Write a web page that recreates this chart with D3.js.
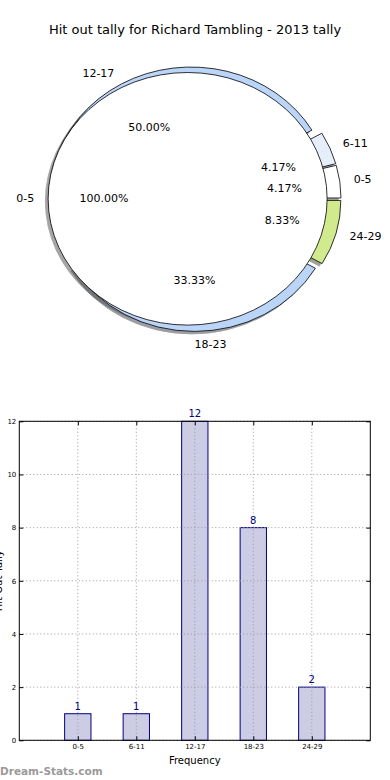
<!DOCTYPE html>
<html>
<head>
<meta charset="utf-8">
<script src="https://cdn.jsdelivr.net/npm/d3@7"></script>
<style>
  html, body { margin: 0; padding: 0; background: #fff; }
  svg { display: block; font-family: "DejaVu Sans", sans-serif; }
</style>
</head>
<body>
<svg id="chart" width="390" height="780"></svg>
<script>
// ---- data ----
const title = "Hit out tally for Richard Tambling - 2013 tally";
const categories = ["0-5", "6-11", "12-17", "18-23", "24-29"];
const counts = [1, 1, 12, 8, 2];
const sliceColors = ["#ffffff", "#e6eefc", "#bad5f8", "#bad5f8", "#d2ea8e"];
const innerLabels = ["0-5"];
const innerValues = [100];
const innerColors = ["#ffffff"];
const yTicks = [0, 2, 4, 6, 8, 10, 12];
const xLabel = "Frequency";
const yLabel = "Hit Out Tally";
const watermark = "Dream-Stats.com";

const svg = d3.select("#chart");

// title
svg.append("text").attr("x", 195).attr("y", 34).attr("text-anchor", "middle")
  .attr("font-size", 13).attr("fill", "#000").text(title);

// ---- pie (elliptical, matplotlib-like: start at east, counter-clockwise) ----
const pcx = 194.6, pcy = 198.8, prx = 139.5, pry = 126.3;
const explode = 0.05, labelDist = 1.1, pctDist = 0.6;
const U = 100; // unit radius in arc space
const arc = d3.arc().innerRadius(0).outerRadius(U);
const pieGen = d3.pie().sort(null).startAngle(Math.PI / 2).endAngle(Math.PI / 2 - 2 * Math.PI);

const total = d3.sum(counts);
const outerArcs = pieGen(counts).map((d, i) => ({...d, label: categories[i], color: sliceColors[i], pct: counts[i] / total * 100}));
const innerArcs = pieGen(innerValues).map((d, i) => ({...d, label: innerLabels[i], color: innerColors[i], pct: 100}));

function geom(d) {
  const a = (d.startAngle + d.endAngle) / 2; // d3 angle
  const ux = Math.sin(a), uy = -Math.cos(a);
  return {ux, uy, ox: pcx + explode * prx * ux, oy: pcy + explode * pry * uy};
}
function shade(c) {
  const r = d3.rgb(c);
  return d3.rgb(r.r * 0.3, r.g * 0.3, r.b * 0.3).toString();
}
const pieG = svg.append("g");
const allArcs = outerArcs.concat(innerArcs);
// shadows first
allArcs.forEach(d => {
  const g = geom(d);
  pieG.append("path").attr("d", arc(d))
    .attr("transform", `translate(${g.ox - 0.02 * prx},${g.oy + 0.02 * pry}) scale(${prx / U},${pry / U})`)
    .attr("fill", shade(d.color)).attr("stroke", shade(d.color)).attr("opacity", 0.5)
    .attr("vector-effect", "non-scaling-stroke").attr("stroke-width", 0.8);
});
allArcs.forEach(d => {
  const g = geom(d);
  pieG.append("path").attr("d", arc(d))
    .attr("transform", `translate(${g.ox},${g.oy}) scale(${prx / U},${pry / U})`)
    .attr("fill", d.color).attr("stroke", "#000")
    .attr("vector-effect", "non-scaling-stroke").attr("stroke-width", 0.8);
});
allArcs.forEach(d => {
  const g = geom(d);
  const lx = g.ox + labelDist * prx * g.ux, ly = g.oy + labelDist * pry * g.uy;
  svg.append("text").attr("x", lx).attr("y", ly)
    .attr("text-anchor", g.ux > -1e-9 ? "start" : "end")
    .attr("dominant-baseline", "central").attr("font-size", 11).text(d.label);
  const px = g.ox + pctDist * prx * g.ux, py = g.oy + pctDist * pry * g.uy;
  svg.append("text").attr("x", px).attr("y", py).attr("text-anchor", "middle")
    .attr("dominant-baseline", "central").attr("font-size", 11).text(d.pct.toFixed(2) + "%");
});

// ---- bar chart ----
const axL = 19.3, axR = 370.3, axT = 421.3, axB = 740.3;
const x = d3.scaleLinear().domain([-1, 5]).range([axL, axR]);
const y = d3.scaleLinear().domain([0, 12]).range([axB, axT]);
const barW = 0.45;
const bg = svg.append("g");

// bars
bg.selectAll("rect.bar").data(counts).enter().append("rect")
  .attr("x", (d, i) => x(i - barW / 2)).attr("width", (d, i) => x(i + barW / 2) - x(i - barW / 2))
  .attr("y", d => y(d)).attr("height", d => y(0) - y(d))
  .attr("fill", "#ccccE4").attr("stroke", "#000080").attr("stroke-width", 1);

// grid
const gridG = bg.append("g").attr("stroke", "#9a9a9a").attr("stroke-width", 1).attr("stroke-dasharray", "1,2.5");
yTicks.forEach(t => gridG.append("line").attr("x1", axL).attr("x2", axR).attr("y1", y(t)).attr("y2", y(t)));
categories.forEach((c, i) => gridG.append("line").attr("x1", x(i)).attr("x2", x(i)).attr("y1", axT).attr("y2", axB));

// value labels
bg.selectAll("text.val").data(counts).enter().append("text")
  .attr("x", (d, i) => x(i)).attr("y", d => y(d) - 4).attr("text-anchor", "middle")
  .attr("font-size", 10).attr("fill", "#000080").text(d => d);

// axes frame
bg.append("rect").attr("x", axL).attr("y", axT).attr("width", axR - axL).attr("height", axB - axT)
  .attr("fill", "none").attr("stroke", "#000").attr("stroke-width", 1);

// y axis ticks (inside) using d3 axis
const yAxis = d3.axisLeft(y).tickValues(yTicks).tickSize(-4).tickPadding(3).tickFormat(d3.format("d"));
const yg = bg.append("g").attr("transform", `translate(${axL},0)`).call(yAxis);
yg.select(".domain").remove();
yg.selectAll("text").attr("font-size", 7).attr("font-family", "DejaVu Sans");
const yAxisR = d3.axisRight(y).tickValues(yTicks).tickSize(-4).tickFormat("");
const ygr = bg.append("g").attr("transform", `translate(${axR},0)`).call(yAxisR);
ygr.select(".domain").remove();

// x axis
const xAxis = d3.axisBottom(x).tickValues(d3.range(categories.length)).tickSize(-4).tickPadding(4)
  .tickFormat(i => categories[i]);
const xg = bg.append("g").attr("transform", `translate(0,${axB})`).call(xAxis);
xg.select(".domain").remove();
xg.selectAll("text").attr("font-size", 7).attr("font-family", "DejaVu Sans");
const xAxisT = d3.axisTop(x).tickValues(d3.range(categories.length)).tickSize(-4).tickFormat("");
const xgt = bg.append("g").attr("transform", `translate(0,${axT})`).call(xAxisT);
xgt.select(".domain").remove();

// axis labels
svg.append("text").attr("x", (axL + axR) / 2).attr("y", 764).attr("text-anchor", "middle")
  .attr("font-size", 10).text(xLabel);
svg.append("text").attr("transform", `translate(2,${(axT + axB) / 2}) rotate(-90)`)
  .attr("text-anchor", "middle").attr("font-size", 10).text(yLabel);

// watermark
svg.append("text").attr("x", 0).attr("y", 775).attr("font-size", 10.5).attr("font-weight", "bold")
  .attr("fill", "#9a9a9a").text(watermark);
</script>
</body>
</html>
